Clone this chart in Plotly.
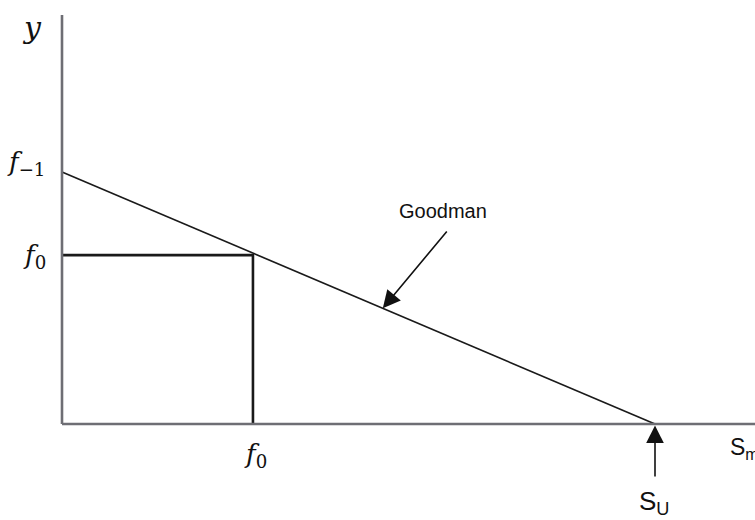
import plotly.graph_objects as go

# Goodman diagram: normalised quantities
f_m1 = 1.0        # fatigue limit f_-1 (intercept on the y axis)
s_u = 1.0         # ultimate strength S_U (intercept on the S_m axis)
f0_x = 0.322      # f_0 on the mean-stress axis
f0_y = 0.67       # f_0 on the y axis

goodman_x = [0.0, s_u]
goodman_y = [f_m1, 0.0]

box_x = [0.0, f0_x, f0_x]
box_y = [f0_y, f0_y, 0.0]

axis_top = 1.623
axis_right = 1.2

serif = "DejaVu Serif"
sans = "Liberation Sans"

fig = go.Figure()

# Goodman line
fig.add_trace(go.Scatter(x=goodman_x, y=goodman_y, mode="lines",
                         line=dict(color="#1a1a1a", width=1.6),
                         hoverinfo="skip", showlegend=False))
# f0 box
fig.add_trace(go.Scatter(x=box_x, y=box_y, mode="lines",
                         line=dict(color="#1a1a1a", width=2.6),
                         hoverinfo="skip", showlegend=False))

# hand-drawn axes
fig.add_shape(type="line", x0=0, y0=0, x1=0, y1=axis_top, xref="x", yref="y",
              line=dict(color="#6e6e74", width=2.6), layer="above")
fig.add_shape(type="line", x0=0, y0=0, x1=axis_right, y1=0, xref="x", yref="y",
              line=dict(color="#6e6e74", width=2.6), layer="above")

annotations = [
    # axis title
    dict(x=-0.0506, y=1.575, text="<i>y</i>", showarrow=False,
         font=dict(family=serif, size=30, color="#111"), xanchor="center", yanchor="middle"),
    # y ticks
    dict(x=-0.026, y=f_m1 + 0.035, text="<i>f</i><sub>−1</sub>", showarrow=False,
         font=dict(family=serif, size=26, color="#111"), xanchor="right", yanchor="middle"),
    dict(x=-0.024, y=f0_y - 0.005, text="<i>f</i><sub>0</sub>", showarrow=False,
         font=dict(family=serif, size=26, color="#111"), xanchor="right", yanchor="middle"),
    # x tick
    dict(x=f0_x + 0.005, y=-0.125, text="<i>f</i><sub>0</sub>", showarrow=False,
         font=dict(family=serif, size=26, color="#111"), xanchor="center", yanchor="middle"),
    # S_m axis label (runs off the right edge)
    dict(x=1.123, y=-0.099, text="S<sub>m</sub>", showarrow=False,
         font=dict(family=sans, size=23, color="#111"), xanchor="left", yanchor="middle"),
    # Goodman label and arrow
    dict(x=0.643, y=0.845, text="Goodman", showarrow=False,
         font=dict(family=sans, size=20, color="#111"), xanchor="center", yanchor="middle"),
    dict(x=0.541, y=f_m1 * (1 - 0.541 / s_u), ax=0.651, ay=0.770,
         xref="x", yref="y", axref="x", ayref="y", text="", showarrow=True,
         arrowhead=2, arrowsize=2.2, arrowwidth=1.6, arrowcolor="#111"),
    # S_U arrow and label
    dict(x=s_u, y=-0.006, ax=s_u, ay=-0.214,
         xref="x", yref="y", axref="x", ayref="y", text="", showarrow=True,
         arrowhead=2, arrowsize=2.2, arrowwidth=1.6, arrowcolor="#111"),
    dict(x=s_u - 0.002, y=-0.31, text="S<sub>U</sub>", showarrow=False,
         font=dict(family=sans, size=26, color="#111"), xanchor="center", yanchor="middle"),
]
fig.update_layout(annotations=annotations)

fig.update_xaxes(range=[-0.10455, 1.16863], visible=False, fixedrange=True)
fig.update_yaxes(range=[-0.381, 1.6825], visible=False, fixedrange=True)
fig.update_layout(width=755, height=520, margin=dict(l=0, r=0, t=0, b=0),
                  paper_bgcolor="white", plot_bgcolor="white", showlegend=False)

fig.write_html("out.html")
